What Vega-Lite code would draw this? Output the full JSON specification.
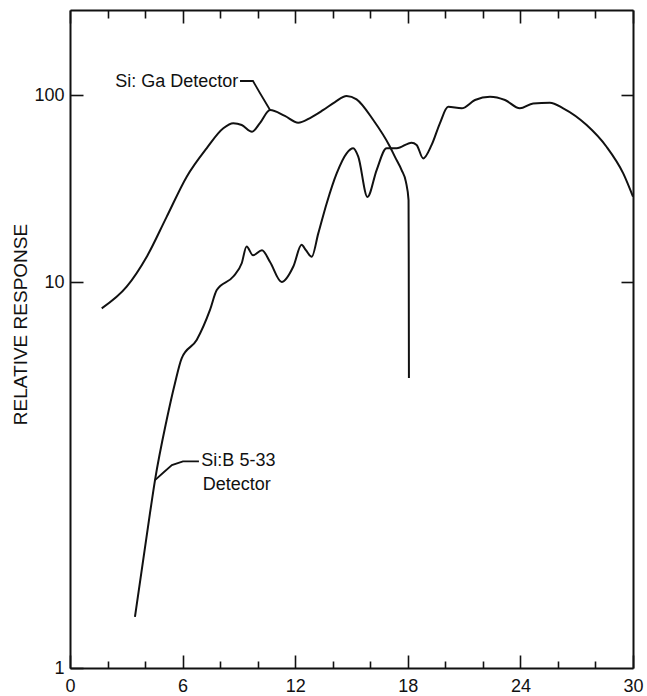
{
  "$schema": "https://vega.github.io/schema/vega-lite/v6.json",
  "width": 563,
  "height": 658,
  "autosize": {"type": "none"},
  "padding": {"left": 70, "top": 10, "right": 14, "bottom": 28},
  "config": {
    "view": {"stroke": null},
    "font": "Liberation Sans",
    "axis": {
      "grid": false,
      "domainColor": "#111111",
      "domainWidth": 2,
      "tickColor": "#111111",
      "tickWidth": 1.6,
      "labelColor": "#111111",
      "labelFont": "Liberation Sans",
      "labelFontSize": 18,
      "titleColor": "#111111",
      "titleFont": "Liberation Sans",
      "titleFontWeight": "normal",
      "titleFontSize": 19
    }
  },
  "datasets": {
    "curves": [
      {"series": "Si:Ga", "x": 1.69, "y": 7.23},
      {"series": "Si:Ga", "x": 3.02, "y": 9.44},
      {"series": "Si:Ga", "x": 4.09, "y": 13.65},
      {"series": "Si:Ga", "x": 5.15, "y": 22.3},
      {"series": "Si:Ga", "x": 6.22, "y": 36.6},
      {"series": "Si:Ga", "x": 7.28, "y": 51.9},
      {"series": "Si:Ga", "x": 8.17, "y": 66.4},
      {"series": "Si:Ga", "x": 8.7, "y": 70.6},
      {"series": "Si:Ga", "x": 9.15, "y": 69.1},
      {"series": "Si:Ga", "x": 9.7, "y": 63.7},
      {"series": "Si:Ga", "x": 10.12, "y": 70.8},
      {"series": "Si:Ga", "x": 10.66, "y": 83.2},
      {"series": "Si:Ga", "x": 11.45, "y": 77.3},
      {"series": "Si:Ga", "x": 12.16, "y": 71.1},
      {"series": "Si:Ga", "x": 12.79, "y": 75.3},
      {"series": "Si:Ga", "x": 13.5, "y": 83.2},
      {"series": "Si:Ga", "x": 14.12, "y": 91.7},
      {"series": "Si:Ga", "x": 14.74, "y": 98.8},
      {"series": "Si:Ga", "x": 15.27, "y": 94.8},
      {"series": "Si:Ga", "x": 16.16, "y": 73.5},
      {"series": "Si:Ga", "x": 17.05, "y": 52.9},
      {"series": "Si:Ga", "x": 17.31, "y": 46.8},
      {"series": "Si:Ga", "x": 17.67, "y": 39.7},
      {"series": "Si:Ga", "x": 17.9, "y": 34.3},
      {"series": "Si:Ga", "x": 18.04, "y": 27.4},
      {"series": "Si:Ga", "x": 18.05, "y": 13.1},
      {"series": "Si:Ga", "x": 18.06, "y": 3.07},
      {"series": "Si:B", "x": 3.46, "y": 0.162},
      {"series": "Si:B", "x": 4.26, "y": 0.579},
      {"series": "Si:B", "x": 4.53, "y": 0.873},
      {"series": "Si:B", "x": 5.15, "y": 1.83},
      {"series": "Si:B", "x": 5.59, "y": 2.87},
      {"series": "Si:B", "x": 5.95, "y": 3.91},
      {"series": "Si:B", "x": 6.75, "y": 4.9},
      {"series": "Si:B", "x": 7.46, "y": 7.09},
      {"series": "Si:B", "x": 7.82, "y": 9.06},
      {"series": "Si:B", "x": 8.7, "y": 10.7},
      {"series": "Si:B", "x": 9.15, "y": 12.6},
      {"series": "Si:B", "x": 9.41, "y": 15.5},
      {"series": "Si:B", "x": 9.75, "y": 13.9},
      {"series": "Si:B", "x": 10.23, "y": 14.8},
      {"series": "Si:B", "x": 10.66, "y": 12.8},
      {"series": "Si:B", "x": 11.28, "y": 10.0},
      {"series": "Si:B", "x": 11.9, "y": 12.1},
      {"series": "Si:B", "x": 12.34, "y": 15.8},
      {"series": "Si:B", "x": 12.57, "y": 14.8},
      {"series": "Si:B", "x": 12.88, "y": 13.65},
      {"series": "Si:B", "x": 13.23, "y": 18.2},
      {"series": "Si:B", "x": 13.68, "y": 26.4},
      {"series": "Si:B", "x": 14.21, "y": 38.1},
      {"series": "Si:B", "x": 14.74, "y": 48.8},
      {"series": "Si:B", "x": 15.09, "y": 51.9},
      {"series": "Si:B", "x": 15.36, "y": 46.8},
      {"series": "Si:B", "x": 15.85, "y": 28.5},
      {"series": "Si:B", "x": 16.34, "y": 39.7},
      {"series": "Si:B", "x": 16.87, "y": 51.9},
      {"series": "Si:B", "x": 17.41, "y": 51.9},
      {"series": "Si:B", "x": 18.2, "y": 55.6},
      {"series": "Si:B", "x": 18.47, "y": 54.1},
      {"series": "Si:B", "x": 18.82, "y": 45.8},
      {"series": "Si:B", "x": 19.27, "y": 54.1},
      {"series": "Si:B", "x": 19.71, "y": 70.6},
      {"series": "Si:B", "x": 20.15, "y": 86.5},
      {"series": "Si:B", "x": 20.87, "y": 84.9},
      {"series": "Si:B", "x": 21.58, "y": 94.0},
      {"series": "Si:B", "x": 22.38, "y": 97.9},
      {"series": "Si:B", "x": 23.18, "y": 94.0},
      {"series": "Si:B", "x": 23.97, "y": 84.9},
      {"series": "Si:B", "x": 24.68, "y": 90.2},
      {"series": "Si:B", "x": 25.57, "y": 90.9},
      {"series": "Si:B", "x": 26.28, "y": 84.9},
      {"series": "Si:B", "x": 27.53, "y": 69.1},
      {"series": "Si:B", "x": 28.59, "y": 52.9},
      {"series": "Si:B", "x": 29.48, "y": 38.1},
      {"series": "Si:B", "x": 30.0, "y": 28.6}
    ],
    "leaders": [
      {"label": "Si:Ga", "x": 9.06, "y": 118.8},
      {"label": "Si:Ga", "x": 9.75, "y": 118.8},
      {"label": "Si:Ga", "x": 10.12, "y": 102.5},
      {"label": "Si:Ga", "x": 10.66, "y": 83.2},
      {"label": "Si:B", "x": 4.53, "y": 0.873},
      {"label": "Si:B", "x": 4.95, "y": 0.952},
      {"label": "Si:B", "x": 5.43, "y": 1.05},
      {"label": "Si:B", "x": 6.02, "y": 1.1},
      {"label": "Si:B", "x": 6.87, "y": 1.1}
    ],
    "labels": [
      {"text": "Si: Ga  Detector", "x": 8.97, "y": 117.3, "anchor": "right"},
      {"text": "Si:B  5-33", "x": 7.0, "y": 1.1, "anchor": "left"},
      {"text": "Detector", "x": 7.07, "y": 0.821, "anchor": "left"}
    ]
  },
  "layer": [
    {
      "data": {"name": "curves"},
      "transform": [{"filter": "datum.series === 'Si:Ga'"}],
      "mark": {"type": "line", "color": "#111111", "strokeWidth": 2, "interpolate": "monotone"},
      "encoding": {
        "x": {
          "field": "x", "type": "quantitative",
          "scale": {"domain": [0, 30], "nice": false, "zero": false},
          "axis": {
            "orient": "bottom",
            "values": [0, 2, 4, 6, 8, 10, 12, 14, 16, 18, 20, 22, 24, 26, 28, 30],
            "labelExpr": "datum.value % 6 === 0 ? datum.label : ''",
            "tickSize": {"condition": {"test": "datum.value % 6 === 0", "value": -13}, "value": -7},
            "labelPadding": 22,
            "labelFlush": false,
            "labelOverlap": false,
            "title": null
          }
        },
        "y": {
          "field": "y", "type": "quantitative",
          "scale": {"type": "log", "domain": [0.0863, 284.8], "nice": false},
          "axis": {
            "orient": "left",
            "values": [0.0863, 10, 100],
            "format": "d",
            "labelExpr": "datum.value < 1 ? '1' : datum.label",
            "tickSize": -13,
            "labelPadding": 19,
            "labelOverlap": false,
            "labelFlush": false,
            "title": "RELATIVE RESPONSE",
            "titleX": -50,
            "titleY": 314,
            "titleAngle": -90,
            "titleAlign": "center",
            "titleBaseline": "middle"
          }
        }
      }
    },
    {
      "data": {"name": "curves"},
      "transform": [{"filter": "datum.series === 'Si:B'"}],
      "mark": {"type": "line", "color": "#111111", "strokeWidth": 2, "interpolate": "monotone"},
      "encoding": {
        "x": {
          "field": "x", "type": "quantitative",
          "scale": {"domain": [0, 30], "nice": false, "zero": false},
          "axis": {
            "orient": "top",
            "values": [0, 2, 4, 6, 8, 10, 12, 14, 16, 18, 20, 22, 24, 26, 28, 30],
            "labels": false,
            "tickSize": {"condition": {"test": "datum.value % 6 === 0", "value": -13}, "value": -8},
            "title": null
          }
        },
        "y": {
          "field": "y", "type": "quantitative",
          "scale": {"type": "log", "domain": [0.0863, 284.8], "nice": false},
          "axis": {
            "orient": "right",
            "values": [10, 100],
            "labels": false,
            "tickSize": -12,
            "title": null
          }
        }
      }
    },
    {
      "data": {"name": "leaders"},
      "mark": {"type": "line", "color": "#111111", "strokeWidth": 1.8},
      "encoding": {
        "x": {"field": "x", "type": "quantitative", "axis": null},
        "y": {"field": "y", "type": "quantitative", "axis": null},
        "detail": {"field": "label"}
      }
    },
    {
      "data": {"name": "labels"},
      "transform": [{"filter": "datum.anchor === 'right'"}],
      "mark": {"type": "text", "font": "Liberation Sans", "fontSize": 18, "color": "#111111", "baseline": "middle", "align": "right"},
      "encoding": {
        "x": {"field": "x", "type": "quantitative", "axis": null},
        "y": {"field": "y", "type": "quantitative", "axis": null},
        "text": {"field": "text"}
      }
    },
    {
      "data": {"name": "labels"},
      "transform": [{"filter": "datum.anchor === 'left'"}],
      "mark": {"type": "text", "font": "Liberation Sans", "fontSize": 18, "color": "#111111", "baseline": "middle", "align": "left"},
      "encoding": {
        "x": {"field": "x", "type": "quantitative", "axis": null},
        "y": {"field": "y", "type": "quantitative", "axis": null},
        "text": {"field": "text"}
      }
    }
  ],
  "resolve": {"axis": {"x": "independent", "y": "independent"}}
}
